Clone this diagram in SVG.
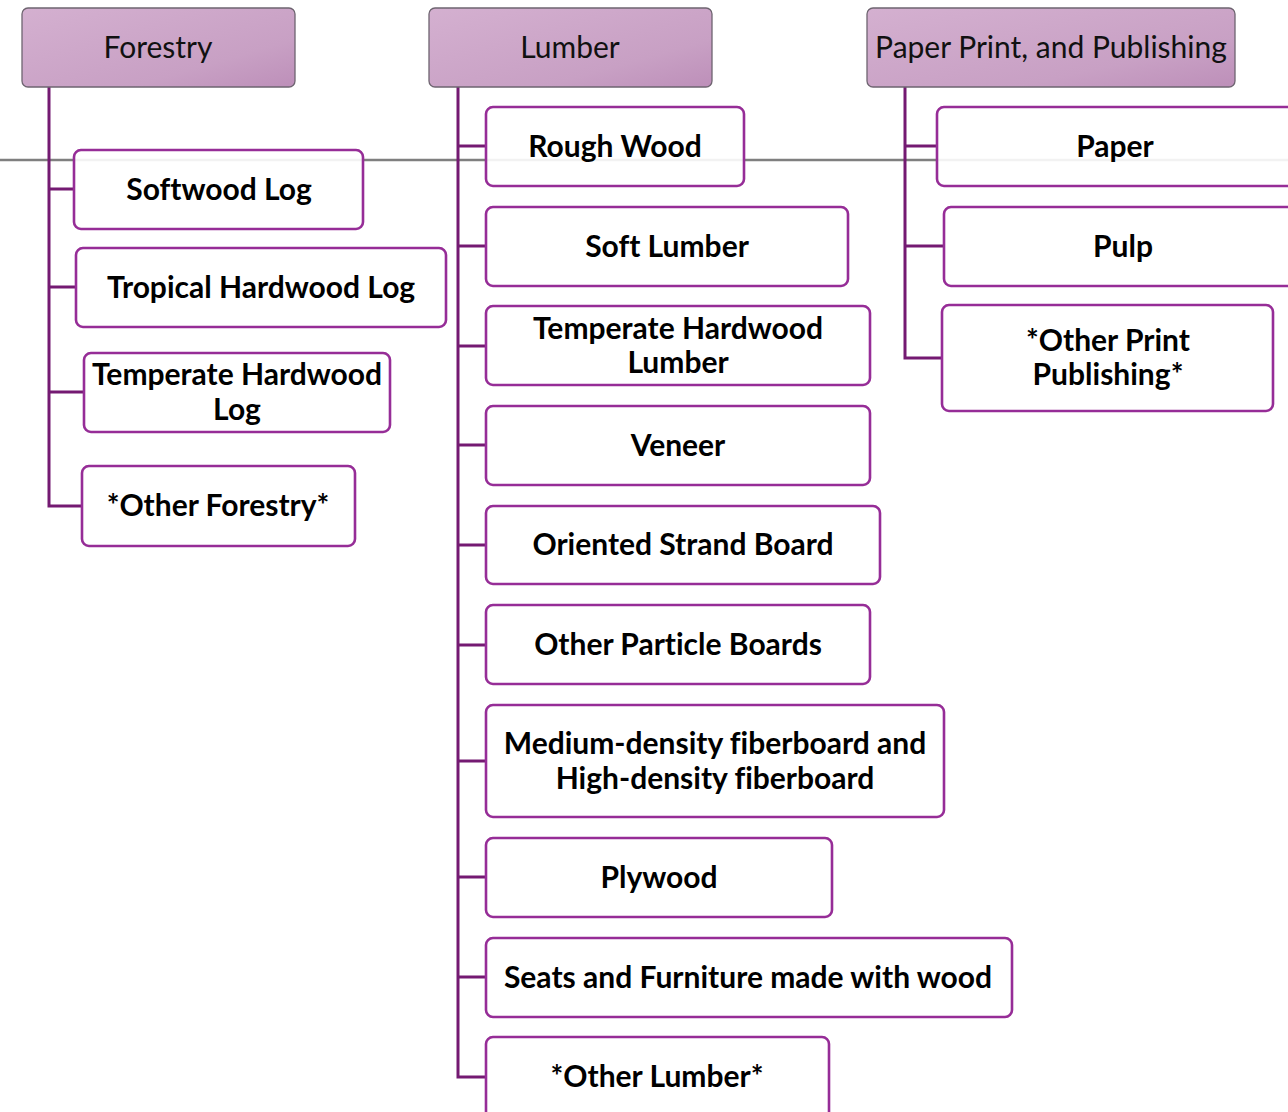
<svg xmlns="http://www.w3.org/2000/svg" width="1288" height="1112" viewBox="0 0 1288 1112">
<defs>
<linearGradient id="hg" x1="0" y1="0" x2="1" y2="1">
<stop offset="0" stop-color="#d4b0d0"/>
<stop offset="0.7" stop-color="#c8a0c4"/>
<stop offset="1" stop-color="#bd8fb9"/>
</linearGradient>
<style>
.h{fill:url(#hg);stroke:#6e6470;stroke-width:1.3}
.b{fill:#fff;fill-opacity:0.9;stroke:#962d97;stroke-width:2.6}
.ht{font-family:Lato,"Open Sans",sans-serif;font-size:30px;fill:#111;text-anchor:middle;font-variant-ligatures:none}
.t{font-family:Lato,"Open Sans",sans-serif;font-weight:bold;font-size:30px;fill:#000;text-anchor:middle;font-variant-ligatures:none}
.c{fill:none;stroke:#741a72;stroke-width:3}
</style>
</defs>
<rect width="1288" height="1112" fill="#fff"/>
<line x1="0" y1="160" x2="1288" y2="160" stroke="#7f7f7f" stroke-width="2.5"/>
<g id="connectors">
<path class="c" d="M49 87V506H82M49 189H74M49 287H76M49 392H84"/>
<path class="c" d="M458 87V1077H486M458 146H486M458 246H486M458 346H486M458 445H486M458 545H486M458 645H486M458 761H486M458 877H486M458 977H486"/>
<path class="c" d="M905 87V358H942M905 146H937M905 246H944"/>
</g>
<g id="forestry"><rect class="h" x="22" y="8" width="273" height="79" rx="6"/><text class="ht" x="158" y="58">Forestry</text></g>
<g id="lumber"><rect class="h" x="429" y="8" width="283" height="79" rx="6"/><text class="ht" x="570" y="58">Lumber</text></g>
<g id="paperprint"><rect class="h" x="867" y="8" width="368" height="79" rx="6"/><text class="ht" x="1051" y="58">Paper Print, and Publishing</text></g>
<g id="softwood"><rect class="b" x="74" y="150" width="289" height="79" rx="7"/><text class="t" x="219" y="200">Softwood Log</text></g>
<g id="tropical"><rect class="b" x="76" y="248" width="370" height="79" rx="7"/><text class="t" x="261" y="298">Tropical Hardwood Log</text></g>
<g id="temperate-log"><rect class="b" x="84" y="353" width="306" height="79" rx="7"/><text class="t" x="237" y="385">Temperate Hardwood</text><text class="t" x="237" y="420">Log</text></g>
<g id="other-forestry"><rect class="b" x="82" y="466" width="273" height="80" rx="7"/><text class="t" x="218" y="516">*Other Forestry*</text></g>
<g id="rough-wood"><rect class="b" x="486" y="107" width="258" height="79" rx="7"/><text class="t" x="615" y="157">Rough Wood</text></g>
<g id="soft-lumber"><rect class="b" x="486" y="207" width="362" height="79" rx="7"/><text class="t" x="667" y="257">Soft Lumber</text></g>
<g id="temperate-lumber"><rect class="b" x="486" y="306" width="384" height="79" rx="7"/><text class="t" x="678" y="339">Temperate Hardwood</text><text class="t" x="678" y="373">Lumber</text></g>
<g id="veneer"><rect class="b" x="486" y="406" width="384" height="79" rx="7"/><text class="t" x="678" y="456">Veneer</text></g>
<g id="osb"><rect class="b" x="486" y="506" width="394" height="78" rx="7"/><text class="t" x="683" y="555">Oriented Strand Board</text></g>
<g id="particle"><rect class="b" x="486" y="605" width="384" height="79" rx="7"/><text class="t" x="678" y="655">Other Particle Boards</text></g>
<g id="mdf"><rect class="b" x="486" y="705" width="458" height="112" rx="7"/><text class="t" x="715" y="754">Medium-density fiberboard and</text><text class="t" x="715" y="789">High-density fiberboard</text></g>
<g id="plywood"><rect class="b" x="486" y="838" width="346" height="79" rx="7"/><text class="t" x="659" y="888">Plywood</text></g>
<g id="seats"><rect class="b" x="486" y="938" width="526" height="79" rx="7"/><text class="t" x="748" y="988">Seats and Furniture made with wood</text></g>
<g id="other-lumber"><rect class="b" x="486" y="1037" width="343" height="85" rx="7"/><text class="t" x="657" y="1087">*Other Lumber*</text></g>
<g id="paper"><rect class="b" x="937" y="107" width="360" height="79" rx="7"/><text class="t" x="1115" y="157">Paper</text></g>
<g id="pulp"><rect class="b" x="944" y="207" width="353" height="79" rx="7"/><text class="t" x="1123" y="257">Pulp</text></g>
<g id="other-print"><rect class="b" x="942" y="305" width="331" height="106" rx="7"/><text class="t" x="1108" y="351">*Other Print</text><text class="t" x="1108" y="385">Publishing*</text></g>
</svg>
